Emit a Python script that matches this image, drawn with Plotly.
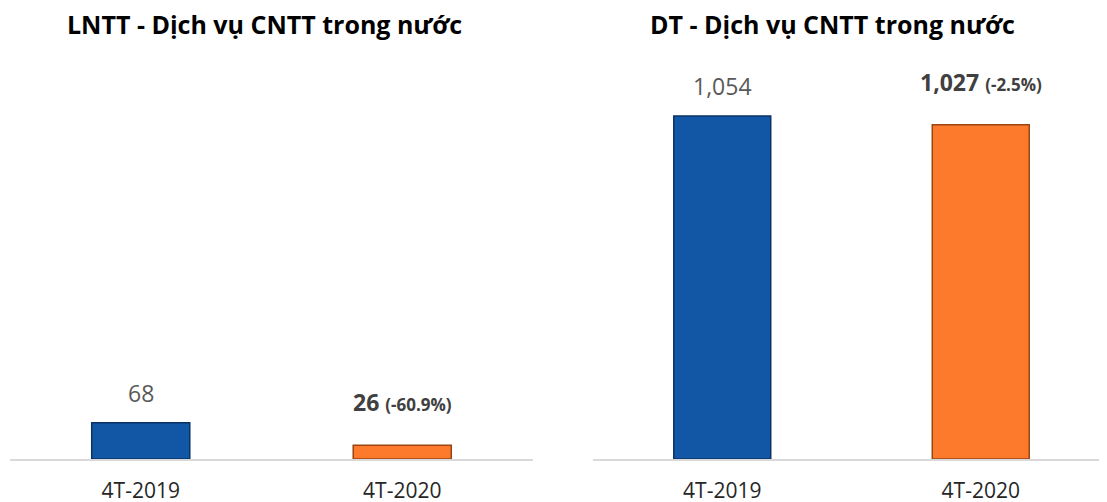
import plotly.graph_objects as go
from plotly.subplots import make_subplots

categories = ["4T-2019", "4T-2020"]
lntt_values = [68, 26]
dt_values = [1054, 1027]
lntt_change = [None, "-60.9%"]
dt_change = [None, "-2.5%"]
titles = ["LNTT - Dịch vụ CNTT trong nước", "DT - Dịch vụ CNTT trong nước"]

bar_colors = ["#1256a6", "#fd7a2c"]
edge_colors = ["#0a3264", "#9a4412"]
FONT = "Open Sans"
W, H = 1107, 502
OFF = 8  # page body margin

fig = make_subplots(rows=1, cols=2)

def add_panel(col, values, changes, xref, yref):
    fig.add_trace(go.Bar(
        x=categories, y=values,
        marker=dict(color=bar_colors, line=dict(color=edge_colors, width=1.5)),
        showlegend=False, hoverinfo="skip",
    ), row=1, col=col)
    for c, v, ch in zip(categories, values, changes):
        if ch is None:
            txt = f"{v:,}"
            fig.add_annotation(x=c, y=v, xref=xref, yref=yref, text=txt,
                               showarrow=False, yanchor="bottom", yshift=12,
                               font=dict(family=FONT, size=23, color="#595959"))
        else:
            txt = f"<b>{v:,}</b> <b><span style='font-size:17px'>({ch})</span></b>"
            fig.add_annotation(x=c, y=v, xref=xref, yref=yref, text=txt,
                               showarrow=False, yanchor="bottom", yshift=25,
                               font=dict(family=FONT, size=23, color="#404040"))

add_panel(1, lntt_values, lntt_change, "x", "y")
add_panel(2, dt_values, dt_change, "x2", "y2")

top_px, bottom_px = 60 - OFF, 459 - OFF
fig.update_layout(
    width=W, height=H,
    margin=dict(l=0, r=0, t=top_px, b=H - bottom_px),
    paper_bgcolor="white", plot_bgcolor="white",
    bargap=0.625,
    xaxis=dict(domain=[(10 - OFF) / W, (533 - OFF) / W]),
    xaxis2=dict(domain=[(593 - OFF) / W, (1110 - OFF) / W]),
    yaxis=dict(range=[0, 750], visible=False),
    yaxis2=dict(range=[0, 1226], visible=False),
)
for ax in ["xaxis", "xaxis2"]:
    fig.layout[ax].update(
        showline=True, linecolor="#d9d9d9", linewidth=2,
        showgrid=False, zeroline=False, ticks="",
        ticklabelstandoff=12,
        tickfont=dict(family=FONT, size=21, color="#262626"),
        fixedrange=True,
    )

for cx, t in zip([264, 832], titles):
    fig.add_annotation(x=(cx - OFF) / W, y=1, xref="paper", yref="paper",
                       xanchor="center", yanchor="middle", yshift=top_px - (24 - OFF),
                       text=f"<b>{t}</b>", showarrow=False,
                       font=dict(family=FONT, size=25, color="#000000"))

fig.write_html("out.html")
